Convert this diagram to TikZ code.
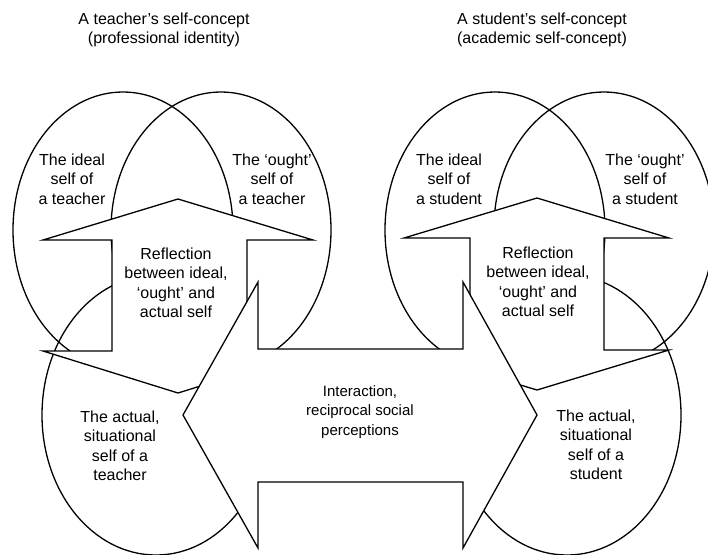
\documentclass[tikz,border=0pt]{standalone}
\usepackage{fontspec}
\setmainfont{Liberation Sans}
\begin{document}
\begin{tikzpicture}[x=1pt, y=-1pt,
  outline/.style = {draw, line width=1.3pt, line join=miter},
  block/.style = {outline, fill=white},
  txt/.style = {align=center, inner sep=0pt, font=\fontsize{16}{19.5}\selectfont},
  midtxt/.style = {txt, font=\fontsize{15}{19.5}\selectfont}]
  \useasboundingbox (0,0) rectangle (708,554);

  % the three selves of each person
  \draw[outline] (123,230) ellipse [x radius=110pt, y radius=138pt];
  \draw[outline] (221,230) ellipse [x radius=110pt, y radius=138pt];
  \draw[outline] (156,415) ellipse [x radius=114pt, y radius=140pt];
  \draw[outline] (495,230) ellipse [x radius=110pt, y radius=138pt];
  \draw[outline] (604,228) ellipse [x radius=110pt, y radius=136pt];
  \draw[outline] (567,415) ellipse [x radius=114pt, y radius=140pt];

  % reflection arrows
  \draw[block] (178,199) -- (313,240) -- (247,240) -- (247,351) -- (313,351)
    -- (178,393) -- (43,351) -- (112,351) -- (112,240) -- (43,240) -- cycle;
  \draw[block] (537,198) -- (669,238) -- (604,238) -- (604,350) -- (669,350)
    -- (537,390) -- (404,350) -- (470,350) -- (470,238) -- (404,238) -- cycle;

  % interaction arrow
  \draw[block] (183,415) -- (258,282) -- (258,349) -- (463,349) -- (463,282)
    -- (537,415) -- (463,548) -- (463,482) -- (258,482) -- (258,548) -- cycle;

  % labels
  \node[txt] (ttitle) at (164,30) {A teacher’s self-concept\\(professional identity)};
  \node[txt] (stitle) at (542,30) {A student’s self-concept\\(academic self-concept)};

  \node[txt] (tideal) at (72,179)  {The ideal\\self of\\a teacher};
  \node[txt] (tought) at (272,179) {The ‘ought’\\self of\\a teacher};
  \node[txt] (sideal) at (449,179) {The ideal\\self of\\a student};
  \node[txt] (sought) at (645,179) {The ‘ought’\\self of\\a student};

  \node[txt] (trefl) at (176,283) {Reflection\\between ideal,\\‘ought’ and\\actual self};
  \node[txt] (srefl) at (538,282) {Reflection\\between ideal,\\‘ought’ and\\actual self};

  \node[midtxt] (inter) at (360,412) {Interaction,\\reciprocal social\\perceptions};

  \node[txt] (tactual) at (120,446) {The actual,\\situational\\self of a\\teacher};
  \node[txt] (sactual) at (596,445) {The actual,\\situational\\self of a\\student};
\end{tikzpicture}
\end{document}
